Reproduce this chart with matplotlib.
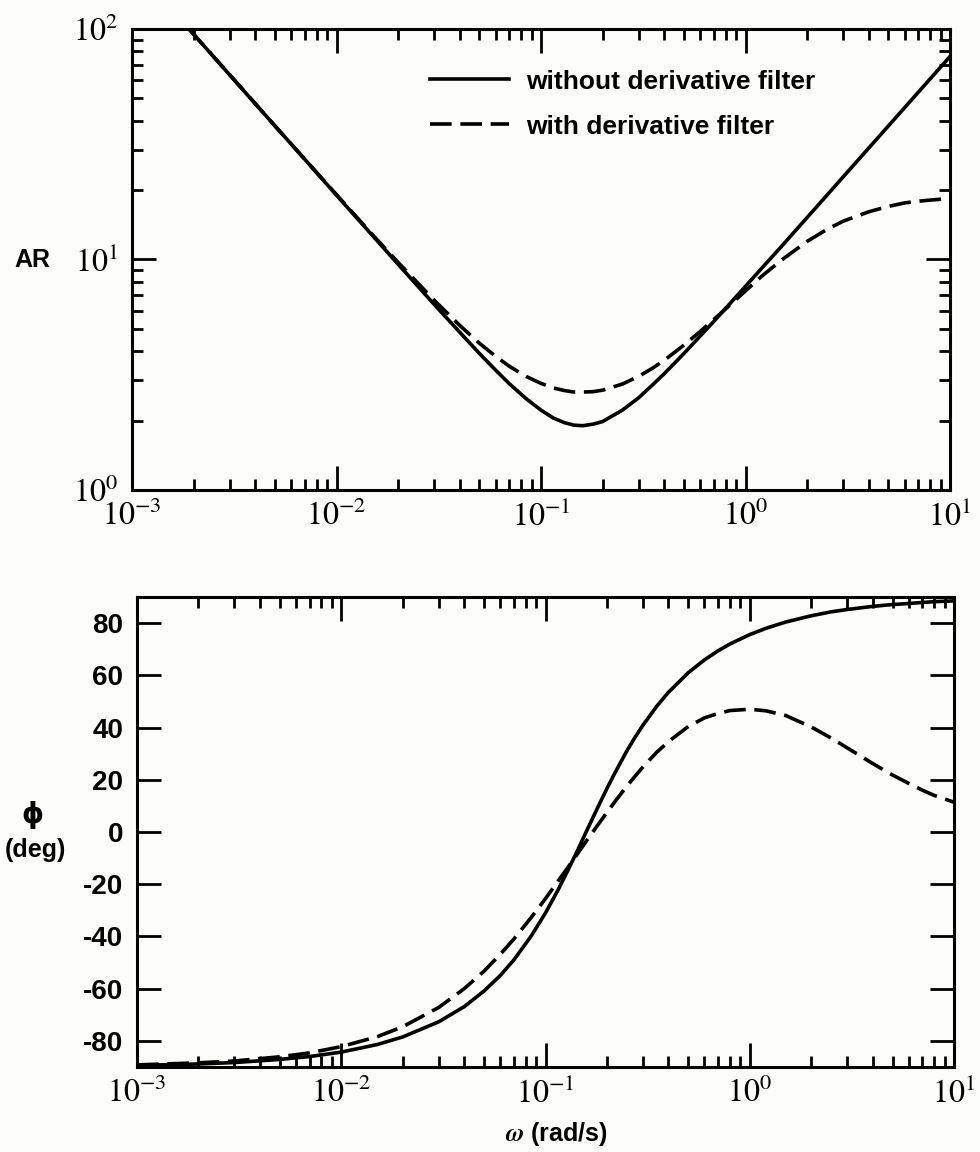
import numpy as np
import matplotlib.pyplot as plt

plt.rcParams['mathtext.fontset'] = 'stix'
plt.rcParams['font.family'] = ['Liberation Sans', 'DejaVu Sans']

# frequencies (rad/s)
w_ar = [0.0019, 0.003, 0.005, 0.007, 0.01, 0.015, 0.02, 0.03, 0.04, 0.05, 0.06, 0.07,
        0.085, 0.1, 0.115, 0.13, 0.145, 0.16, 0.18, 0.2, 0.25, 0.3, 0.35, 0.4, 0.5, 0.6,
        0.7, 0.8, 1.0, 1.2, 1.5, 2.0, 2.5, 3.0, 4.0, 5.0, 6.0, 7.0, 8.0, 10.0]
ar_nofilt = [100.0, 63.3, 38.0, 27.2, 19.0, 12.7, 9.54, 6.39, 4.84, 3.91, 3.31, 2.89,
             2.48, 2.22, 2.05, 1.96, 1.91, 1.90, 1.93, 1.98, 2.22, 2.51, 2.85, 3.19, 3.91, 4.65,
             5.39, 6.14, 7.65, 9.16, 11.4, 15.2, 19.0, 22.8, 30.4, 38.0, 45.6, 53.2, 60.8, 76.0]
ar_filt = [100.0, 63.4, 38.0, 27.2, 19.1, 12.8, 9.72, 6.66, 5.18, 4.33, 3.80, 3.44,
           3.10, 2.90, 2.77, 2.70, 2.66, 2.66, 2.67, 2.71, 2.88, 3.11, 3.37, 3.65, 4.25, 4.87,
           5.49, 6.11, 7.31, 8.46, 9.94, 11.98, 13.5, 14.66, 16.1, 17.0, 17.6, 17.9, 18.1, 18.4]

w_ph = [0.001, 0.002, 0.003, 0.005, 0.007, 0.01, 0.015, 0.02, 0.03, 0.04, 0.05, 0.06,
        0.07, 0.085, 0.1, 0.115, 0.13, 0.145, 0.16, 0.18, 0.2, 0.22, 0.25, 0.27, 0.3, 0.35,
        0.4, 0.5, 0.6, 0.7, 0.8, 1.0, 1.2, 1.5, 2.0, 2.5, 3.0, 4.0, 5.0, 6.0, 7.0, 8.0, 10.0]
ph_nofilt = [-89.4, -88.85, -88.3, -87.1, -86.0, -84.3, -81.4, -78.5, -72.7, -66.9, -60.9, -55.0,
             -49.0, -39.9, -31.0, -22.3, -14.0, -6.3, 0.9, 9.3, 16.7, 23.0, 31.0, 35.4, 40.9, 48.1,
             53.5, 61.0, 65.9, 69.4, 72.0, 75.6, 78.0, 80.4, 82.8, 84.3, 85.2, 86.4, 87.1, 87.5,
             87.9, 88.2, 88.5]
ph_filt = [-89.2, -88.4, -87.7, -86.1, -84.6, -82.2, -78.4, -74.6, -67.2, -60.0, -53.3, -46.9,
           -41.0, -32.8, -25.5, -18.9, -13.1, -7.8, -3.0, 2.6, 7.5, 11.9, 17.5, 20.7, 24.9, 30.5,
           34.6, 40.4, 43.7, 45.4, 46.5, 47.0, 46.4, 44.6, 40.2, 36.0, 32.2, 26.2, 21.8, 18.6,
           16.0, 14.0, 11.4]

ph_ticks = [-80, -60, -40, -20, 0, 20, 40, 60, 80]
dec_ticks = [1e-3, 1e-2, 1e-1, 1e0, 1e1]
dec_labels = [r'$\mathrm{10^{-3}}$', r'$\mathrm{10^{-2}}$', r'$\mathrm{10^{-1}}$',
              r'$\mathrm{10^{0}}$', r'$\mathrm{10^{1}}$']

bg = '#fcfcfa'
fig = plt.figure(figsize=(9.8, 11.52), dpi=100, facecolor=bg)
ax1 = fig.add_axes([0.1347, 0.5747, 0.8347, 0.4001], facecolor=bg)
ax2 = fig.add_axes([0.1398, 0.0738, 0.8337, 0.4080], facecolor=bg)

lw = 2.6
dash = (6, 2.4)

ax1.loglog(w_ar, ar_nofilt, color='black', lw=lw, label='without derivative filter')
ax1.loglog(w_ar, ar_filt, color='black', lw=lw, dashes=dash, label='with derivative filter')
ax1.set_xlim(1e-3, 10)
ax1.set_ylim(1, 100)

ax2.semilogx(w_ph, ph_nofilt, color='black', lw=lw)
ax2.semilogx(w_ph, ph_filt, color='black', lw=lw, dashes=dash)
ax2.set_xlim(1e-3, 10)
ax2.set_ylim(-90, 90)

for ax in (ax1, ax2):
    for s in ax.spines.values():
        s.set_linewidth(2.2)
    ax.tick_params(which='both', direction='in', top=True, right=True, width=2)
    ax.tick_params(which='major', length=17)
    ax.tick_params(which='minor', length=8)
    ax.set_xticks(dec_ticks, dec_labels)
    ax.tick_params(axis='x', labelsize=23, pad=8)

ax1.set_yticks([1, 10, 100], [r'$\mathrm{10^{0}}$', r'$\mathrm{10^{1}}$', r'$\mathrm{10^{2}}$'])
ax1.tick_params(axis='y', labelsize=23, pad=10)

ax2.set_yticks(ph_ticks, [str(t) for t in ph_ticks])
ax2.tick_params(axis='y', labelsize=20, pad=10)
for t in ax2.get_yticklabels():
    t.set_fontweight('bold')

leg = ax1.legend(loc='upper left', bbox_to_anchor=(0.364, 0.912), frameon=False,
                 handlelength=3.0, handletextpad=0.65, labelspacing=0.8,
                 borderpad=0, borderaxespad=0,
                 prop={'family': 'Liberation Sans', 'weight': 'bold', 'size': 19})

fig.text(32 / 980, 1 - 260 / 1152, 'AR', ha='center', va='center', fontsize=18, fontweight='bold')
fig.text(32 / 980, 1 - 815 / 1152, '\u03d5', ha='center', va='center', fontsize=20,
         fontweight='bold', family=['DejaVu Sans'])
fig.text(35 / 980, 1 - 850 / 1152, '(deg)', ha='center', va='center', fontsize=18, fontweight='bold')
fig.text(556 / 980, 1 - 1134 / 1152, r'$\boldsymbol{\omega}$ (rad/s)', ha='center', va='center',
         fontsize=18, fontweight='bold')

fig.savefig('out.png', dpi=100, facecolor=bg)
